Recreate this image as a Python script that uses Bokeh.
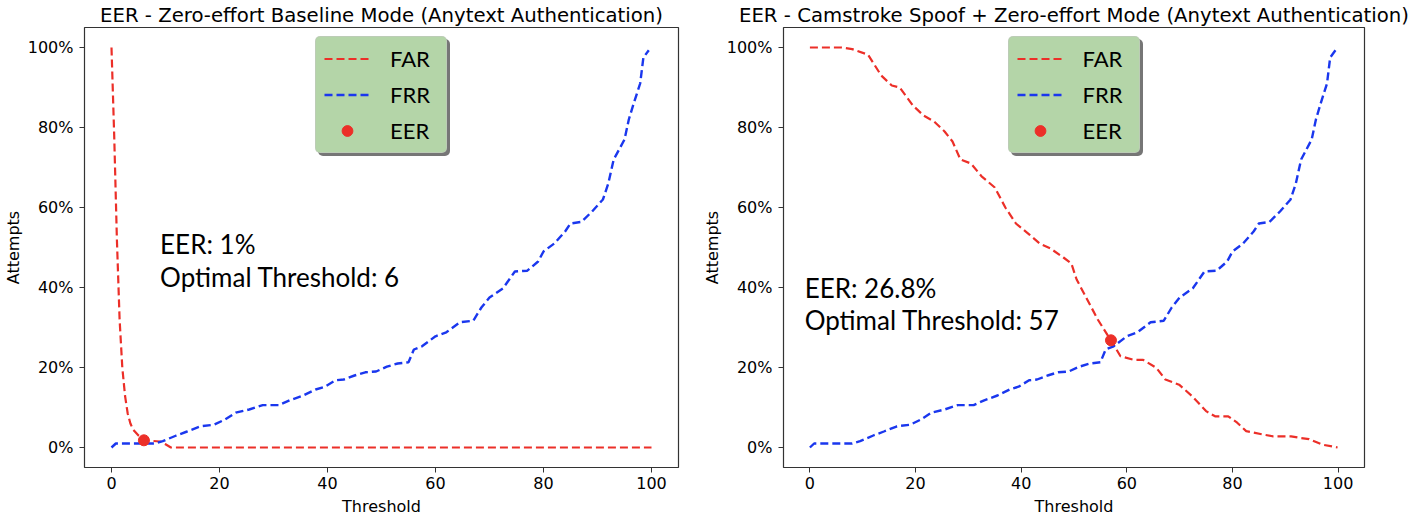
from bokeh.plotting import figure
from bokeh.layouts import row
from bokeh.models import Range1d, FixedTicker, Legend, LegendItem, Label
from bokeh.embed import file_html
from bokeh.resources import INLINE

# ---------------- data ----------------
titles = ["EER - Zero-effort Baseline Mode (Anytext Authentication)",
          "EER - Camstroke Spoof + Zero-effort Mode (Anytext Authentication)"]
series_names = ["FAR", "FRR", "EER"]

threshold_frr = [0, 0.8, 8, 9.5, 12, 14, 16.5, 19, 21, 23, 25.5, 28, 31, 33, 35.5, 37.8, 39.5,
                 41.5, 43, 45, 47, 49, 51, 53, 55, 56, 57.5, 60, 62, 64.5, 67, 68.5, 70, 72.5,
                 74.7, 77, 79, 80, 82, 84, 85, 87, 89, 91, 92, 93, 95, 95.8, 96.7, 97.9, 98.5, 99.5]
frr = [0, 1, 1, 1.6, 3, 4, 5.3, 5.7, 7, 8.7, 9.5, 10.6, 10.6, 11.8, 13, 14.5, 15.2,
       16.8, 17, 18, 18.8, 19, 20.2, 21, 21.3, 24.5, 25.3, 27.8, 28.8, 31.3, 31.7, 35, 37.5, 39.8,
       44, 44.2, 46.5, 49, 51, 54, 56, 56.4, 59, 62, 66, 72, 77, 82, 86, 91, 97.5, 99.3]

threshold_far_base = [0, 0.5, 1, 1.5, 2, 2.5, 3, 3.5, 4, 5, 6, 7, 9, 10, 11, 100]
far_base = [100, 78, 52, 32, 20, 13, 8.5, 6, 4.5, 3, 2, 1.7, 1.5, 0.8, 0, 0]

threshold_far_spoof = [0, 6, 8, 11, 13.5, 15.5, 17, 19.5, 21.5, 23.5, 25.5, 27, 28.5, 30.5, 32.5,
                       35, 37, 39, 41.5, 43.5, 45.5, 48, 49.5, 50.5, 52.5, 54.5, 56.3, 57, 58.8,
                       61.4, 63.1, 65.6, 67.3, 69.9, 72.4, 75, 76.7, 79.2, 80.9, 82.6, 86, 87.7,
                       91.1, 92.8, 94.5, 97.1, 99.9]
far_spoof = [100, 100, 99.6, 98.2, 93, 90.5, 90, 85.5, 83, 81.5, 79, 76.5, 72, 71, 67.8,
             65, 60, 56, 53.3, 51, 49.8, 47.5, 46, 42, 37, 32, 28.2, 26.8, 22.8,
             21.9, 21.9, 19.9, 17, 15.7, 12.8, 9.1, 7.8, 7.8, 6.2, 4.1, 3.2, 2.8,
             2.8, 2.4, 2.1, 0.7, 0]

eer_threshold = [6, 57]
eer_value = [1.8, 26.8]
annotations = [["EER: 1%", "Optimal Threshold: 6"],
               ["EER: 26.8%", "Optimal Threshold: 57"]]

x_ticks = [0, 20, 40, 60, 80, 100]
y_ticks = [0, 20, 40, 60, 80, 100]
y_tick_labels = ["0%", "20%", "40%", "60%", "80%", "100%"]

# ---------------- style ----------------
RED = "#ec2f28"
BLUE = "#1a37ee"
FRAME = "#333333"
LEG_BG = "#b4d5a8"
SHADOW = "#767676"
TXT_FONT = "DejaVu Sans"
LEG_FONT = "Lato"

FRAME_H = 440
BORDER_TOP = 22
BORDER_BOTTOM = 45

LEG_PAD = 8
LEG_GLYPH_W = 46
LEG_STANDOFF = 20
LEG_LABEL_W = 48
LEG_ITEM_H = 27
LEG_SPACING = 9
LEG_W = 2 * LEG_PAD + LEG_GLYPH_W + LEG_STANDOFF + LEG_LABEL_W
LEG_H = 2 * LEG_PAD + 3 * LEG_ITEM_H + 2 * LEG_SPACING
LEG_TOP_GAP = 11


def style_legend(leg):
    leg.padding = LEG_PAD
    leg.glyph_width = LEG_GLYPH_W
    leg.glyph_height = LEG_ITEM_H
    leg.label_width = LEG_LABEL_W
    leg.label_height = LEG_ITEM_H
    leg.label_standoff = LEG_STANDOFF
    leg.spacing = LEG_SPACING
    leg.label_text_font = LEG_FONT
    leg.label_text_font_size = "22px"
    leg.margin = 0
    if "border_radius" in Legend.properties():
        leg.border_radius = 5


def make_plot(idx, far_t, far_v, frame_w, bl, br, ann_x, ann_y):
    p = figure(frame_width=frame_w, frame_height=FRAME_H, output_backend="svg",
               toolbar_location=None,
               x_range=Range1d(-5, 105), y_range=Range1d(-5, 105),
               min_border_left=bl, min_border_right=br,
               min_border_top=BORDER_TOP, min_border_bottom=BORDER_BOTTOM,
               background_fill_color="white", border_fill_color="white")
    p.title.text = titles[idx]
    p.title.align = "center"
    p.title.text_font = TXT_FONT
    p.title.text_font_size = "19.7px"
    p.title.text_font_style = "normal"
    p.title.text_color = "black"
    p.title.standoff = 2

    p.xgrid.visible = False
    p.ygrid.visible = False
    p.outline_line_color = FRAME
    p.outline_line_width = 1.2
    p.outline_line_alpha = 1

    p.xaxis.ticker = FixedTicker(ticks=x_ticks)
    p.yaxis.ticker = FixedTicker(ticks=y_ticks)
    p.yaxis.major_label_overrides = {t: l for t, l in zip(y_ticks, y_tick_labels)}
    p.xaxis.axis_label = "Threshold"
    p.yaxis.axis_label = "Attempts"
    for ax in (p.xaxis, p.yaxis):
        ax.axis_line_color = None
        ax.major_tick_line_color = FRAME
        ax.major_tick_out = 5
        ax.major_tick_in = 0
        ax.minor_tick_line_color = None
        ax.major_label_text_font = TXT_FONT
        ax.major_label_text_font_size = "16px"
        ax.major_label_text_color = "black"
        ax.axis_label_text_font = TXT_FONT
        ax.axis_label_text_font_size = "16px"
        ax.axis_label_text_font_style = "normal"
        ax.axis_label_text_color = "black"
    p.xaxis.major_label_standoff = 4
    p.yaxis.major_label_standoff = 6
    p.xaxis.axis_label_standoff = 5
    p.yaxis.axis_label_standoff = 2

    far_r = p.line(far_t, far_v, line_color=RED, line_width=2.2, line_dash="8 4")
    frr_r = p.line(threshold_frr, frr, line_color=BLUE, line_width=2.4, line_dash="8 4")
    eer_r = p.scatter([eer_threshold[idx]], [eer_value[idx]], size=11,
                      fill_color=RED, line_color=RED, marker="circle")

    for line_txt, yy in zip(annotations[idx], ann_y):
        p.add_layout(Label(x=ann_x, y=yy, text=line_txt, text_font=LEG_FONT,
                           text_font_size="26px", text_baseline="middle",
                           text_color="black"))

    lx = (frame_w - LEG_W) / 2 - 1
    ly = FRAME_H - LEG_TOP_GAP - LEG_H

    renderers = [far_r, frr_r, eer_r]

    # shadow box: same fixed-size legend layout with blank labels, drawn underneath with offset
    shadow = Legend(items=[LegendItem(label="\u00a0", renderers=[r]) for r in renderers],
                    location=(lx + 3, ly - 3))
    style_legend(shadow)
    shadow.background_fill_color = SHADOW
    shadow.background_fill_alpha = 1
    shadow.border_line_color = SHADOW
    shadow.border_line_width = 1
    shadow.label_text_color = SHADOW
    p.add_layout(shadow, "center")

    leg = Legend(items=[LegendItem(label=n, renderers=[r]) for n, r in zip(series_names, renderers)],
                 location=(lx, ly))
    style_legend(leg)
    leg.background_fill_color = LEG_BG
    leg.background_fill_alpha = 1
    leg.border_line_color = "#c4c4c4"
    leg.border_line_width = 1
    leg.label_text_color = "black"
    p.add_layout(leg, "center")
    return p


p1 = make_plot(0, threshold_far_base, far_base, 594, 75, 21, 9, [51, 42.6])
p2 = make_plot(1, threshold_far_spoof, far_spoof, 581, 82, 50, -1, [40, 32])

layout = row(p1, p2)
open("out.html", "w").write(file_html(layout, INLINE))
